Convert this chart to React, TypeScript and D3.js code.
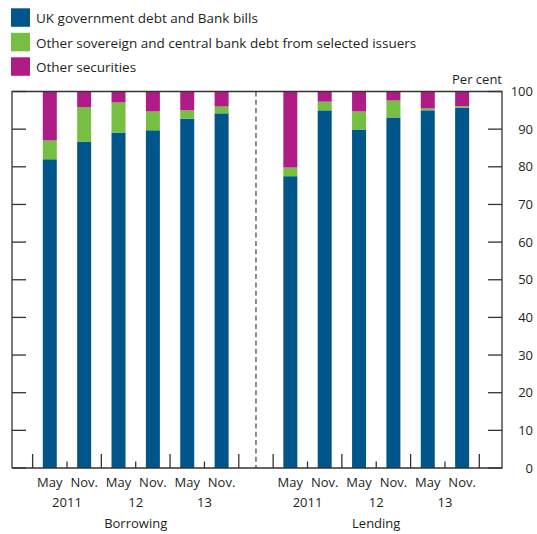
import React from "react";
import * as d3 from "d3";

const months = ["May", "Nov.", "May", "Nov.", "May", "Nov."];
const years = ["2011", "12", "13"];
const groups = ["Borrowing", "Lending"];
const seriesNames = [
  "UK government debt and Bank bills",
  "Other sovereign and central bank debt from selected issuers",
  "Other securities",
];
const borrowingUK = [82.0, 86.7, 89.1, 89.7, 92.8, 94.2];
const borrowingSov = [5.0, 9.1, 8.0, 5.0, 2.2, 1.8];
const lendingUK = [77.5, 95.0, 89.9, 93.1, 95.0, 95.7];
const lendingSov = [2.3, 2.3, 4.8, 4.5, 0.5, 0.4];
const yTicks = [0, 10, 20, 30, 40, 50, 60, 70, 80, 90, 100];

const colors = ["#00558b", "#77bf43", "#b01c86"];
const FONT = "'Open Sans', 'Noto Sans', sans-serif";
const TEXT = "#231f20";
const AXIS = "#333";

export default function App() {
  const W = 537, H = 534;
  const left = 12, right = 502, top = 91.5, bottom = 468;
  const x = d3.scaleLinear().domain([-1.1, 13.16]).range([left, right]);
  const y = d3.scaleLinear().domain([0, 100]).range([bottom, top]);
  const barW = 14;

  const groupData = [
    { uk: borrowingUK, sov: borrowingSov, offset: 0 },
    { uk: lendingUK, sov: lendingSov, offset: 7 },
  ];

  const bars: any[] = [];
  groupData.forEach((g, gi) => {
    g.uk.forEach((u, i) => {
      const s = g.sov[i];
      const stack = [
        [0, u],
        [u, u + s],
        [u + s, 100],
      ];
      stack.forEach(([a, b], k) => {
        bars.push(
          <rect
            key={`b${gi}-${i}-${k}`}
            x={x(g.offset + i) - barW / 2}
            width={barW}
            y={y(b)}
            height={Math.max(0, y(a) - y(b))}
            fill={colors[k]}
          />
        );
      });
    });
  });

  const xTicks: { v: number; tall: boolean }[] = [];
  [0, 7].forEach((off) => {
    for (let j = 0; j <= 6; j++) {
      xTicks.push({ v: off + j - 0.5, tall: j % 2 === 0 });
    }
  });

  return (
    <svg
      width={W}
      height={H}
      style={{ position: "absolute", left: 0, top: 0, background: "#fff" }}
      fontFamily={FONT}
    >
      {/* legend */}
      {seriesNames.map((n, i) => (
        <g key={n} transform={`translate(11, ${8.3 + i * 24.5})`}>
          <rect width={19} height={18.5} fill={colors[i]} />
          <text x={25} y={15} fontSize={13.5} fill={TEXT}>
            {n}
          </text>
        </g>
      ))}
      <text x={right} y={84} fontSize={13} textAnchor="end" fill={TEXT}>
        Per cent
      </text>

      {bars}

      {/* dashed divider */}
      <line
        x1={x(6)}
        x2={x(6)}
        y1={top}
        y2={bottom}
        stroke="#666"
        strokeWidth={1.5}
        strokeDasharray="5 3.3"
      />

      {/* frame */}
      <path
        d={`M${left},${bottom}V${top}H${right}V${bottom}H${left}`}
        fill="none"
        stroke={AXIS}
        strokeWidth={1.3}
      />

      {/* y ticks */}
      {yTicks.map((t) => (
        <g key={t}>
          <line x1={left} x2={left + 14} y1={y(t)} y2={y(t)} stroke={AXIS} strokeWidth={1.3} />
          <line x1={right - 14} x2={right} y1={y(t)} y2={y(t)} stroke={AXIS} strokeWidth={1.3} />
          <text x={533} y={y(t) + 4.5} fontSize={13} textAnchor="end" fill={TEXT}>
            {t}
          </text>
        </g>
      ))}

      {/* x ticks */}
      {xTicks.map((t, i) => (
        <line
          key={i}
          x1={x(t.v)}
          x2={x(t.v)}
          y1={bottom}
          y2={bottom - (t.tall ? 14 : 6.5)}
          stroke={AXIS}
          strokeWidth={1.3}
        />
      ))}

      {/* x labels */}
      {[0, 7].map((off, gi) => (
        <g key={gi}>
          {months.map((m, i) => (
            <text key={i} x={x(off + i)} y={487} fontSize={13} textAnchor="middle" fill={TEXT}>
              {m}
            </text>
          ))}
          {years.map((yy, j) => (
            <text key={j} x={x(off + 2 * j + 0.5)} y={507} fontSize={13} textAnchor="middle" fill={TEXT}>
              {yy}
            </text>
          ))}
          <text x={x(off + 2.5)} y={528} fontSize={13} textAnchor="middle" fill={TEXT}>
            {groups[gi]}
          </text>
        </g>
      ))}
    </svg>
  );
}
